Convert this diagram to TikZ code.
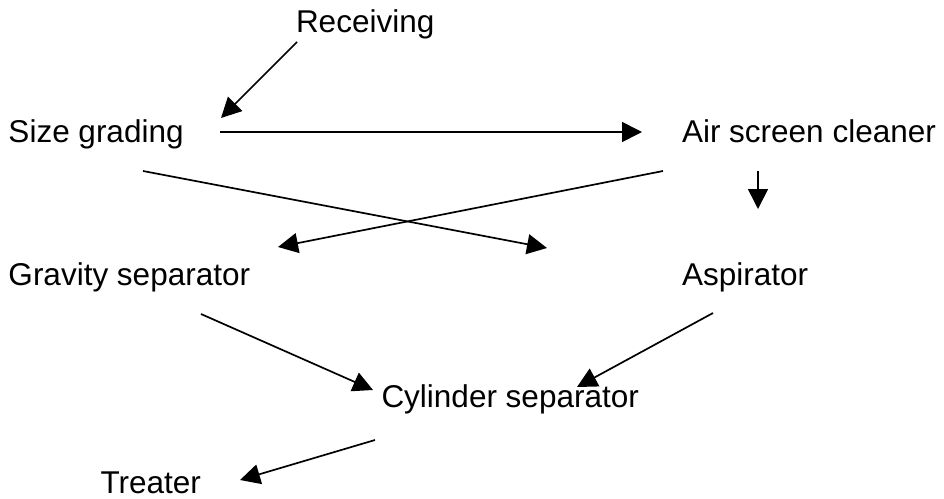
\documentclass[tikz,border=0pt]{standalone}
\usepackage{fontspec}
\setmainfont{Liberation Sans}
\usetikzlibrary{arrows.meta}
\begin{document}
\begin{tikzpicture}[x=1pt,y=-1pt,
  stage/.style={anchor=base west,inner sep=0pt,outer sep=0pt,
    font=\fontsize{31.5}{36}\selectfont},
  flow/.style={line width=1.7pt,-{Triangle[length=20pt,width=20pt]}}]
  \useasboundingbox (0,0) rectangle (944,498);

  % process stages
  \node[stage] (recv)  at (296,32)   {Receiving};
  \node[stage] (size)  at (8.5,142)  {Size grading};
  \node[stage] (air)   at (682,142)  {Air screen cleaner};
  \node[stage] (grav)  at (8.5,285)  {Gravity separator};
  \node[stage] (asp)   at (682,285)  {Aspirator};
  \node[stage] (cyl)   at (381.5,407){Cylinder separator};
  \node[stage] (treat) at (100.5,493){Treater};

  % connector end points
  \coordinate (recv-out) at (297,42);
  \coordinate (size-in)  at (221,118);
  \coordinate (size-out) at (220,132);
  \coordinate (air-in)   at (642,132);
  \coordinate (air-down) at (758,171);
  \coordinate (air-tip)  at (758,209);
  \coordinate (size-x)   at (143,171);
  \coordinate (asp-in)   at (547,248);
  \coordinate (air-x)    at (663,171);
  \coordinate (grav-in)  at (278,247);
  \coordinate (grav-out) at (201,314);
  \coordinate (cyl-inl)  at (373,390);
  \coordinate (asp-out)  at (713,313);
  \coordinate (cyl-inr)  at (577,387);
  \coordinate (cyl-out)  at (375,440);
  \coordinate (treat-in) at (240,480);

  % flow between stages
  \draw[flow] (recv-out) -- (size-in);
  \draw[flow] (size-out) -- (air-in);
  \draw[flow] (air-down) -- (air-tip);
  \draw[flow] (size-x)   -- (asp-in);
  \draw[flow] (air-x)    -- (grav-in);
  \draw[flow] (grav-out) -- (cyl-inl);
  \draw[flow] (asp-out)  -- (cyl-inr);
  \draw[flow] (cyl-out)  -- (treat-in);
\end{tikzpicture}
\end{document}
